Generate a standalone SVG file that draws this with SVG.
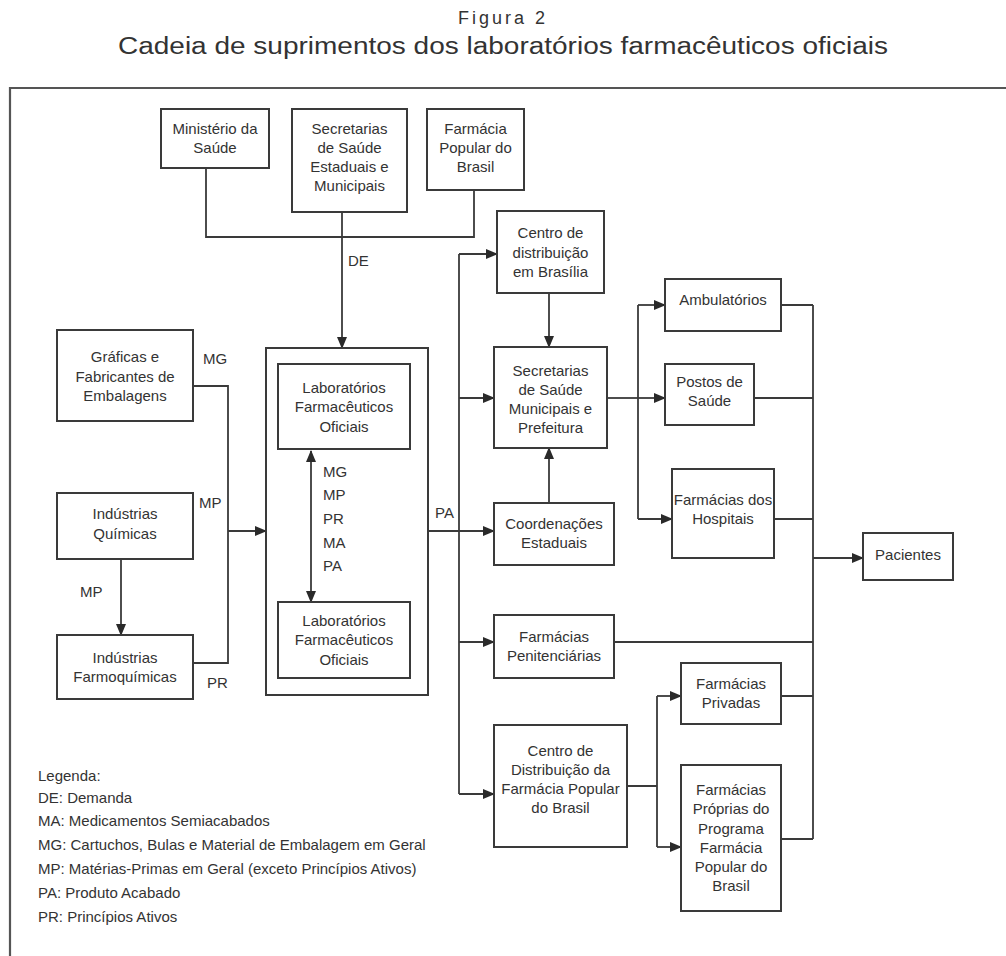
<svg xmlns="http://www.w3.org/2000/svg" width="1006" height="956" viewBox="0 0 1006 956">
<defs>
<marker id="ah" markerUnits="userSpaceOnUse" markerWidth="12" markerHeight="10" refX="11" refY="5" orient="auto-start-reverse">
<path d="M0,0 L12,5 L0,10 Z" fill="#2a2a2a"/>
</marker>
</defs>
<style>
.box{fill:#fff;stroke:#3a3a3a;stroke-width:2}
.t{font-family:"Liberation Sans",Arial,sans-serif;font-size:15px;fill:#333;text-anchor:middle;dominant-baseline:central}
.lbl{font-family:"Liberation Sans",Arial,sans-serif;font-size:15px;fill:#333;dominant-baseline:central}
.ln{fill:none;stroke:#3a3a3a;stroke-width:1.8}
.ar{fill:none;stroke:#3a3a3a;stroke-width:1.8;marker-end:url(#ah)}
</style>
<rect width="1006" height="956" fill="#fff"/>
<text x="503" y="18" class="t" style="font-size:18px;letter-spacing:3px">Figura 2</text>
<text x="503" y="46" class="t" style="font-size:23px" textLength="770" lengthAdjust="spacingAndGlyphs">Cadeia de suprimentos dos laboratórios farmacêuticos oficiais</text>
<path d="M1006,88 H10 V956" fill="none" stroke="#555" stroke-width="2.2"/>

<g id="connectors">
<path class="ln" d="M206,168 V237 H474 V190"/>
<path class="ar" d="M342,212 V348"/>
<path class="ln" d="M194,386 H228 V663 H194"/>
<path class="ar" d="M228,531 H266"/>
<path class="ar" d="M121,559 V635"/>
<path class="ar" d="M311,451 V602" style="marker-start:url(#ah)"/>
<path class="ar" d="M428,531 H494"/>
<path class="ln" d="M459,254 V794"/>
<path class="ar" d="M459,254 H497"/>
<path class="ar" d="M459,398 H494"/>
<path class="ar" d="M459,642 H494"/>
<path class="ar" d="M459,794 H494"/>
<path class="ar" d="M549,293 V347"/>
<path class="ar" d="M549,503 V448"/>
<path class="ln" d="M607,398 H638"/>
<path class="ln" d="M638,305 V519"/>
<path class="ar" d="M638,305 H665"/>
<path class="ar" d="M638,398 H665"/>
<path class="ar" d="M638,519 H672"/>
<path class="ln" d="M781,305 H813 M754,398 H813 M774,519 H813 M614,642 H813 M781,696 H813 M781,839 H813 M813,305 V839"/>
<path class="ar" d="M813,558 H863"/>
<path class="ln" d="M627,786 H657 M657,696 V847"/>
<path class="ar" d="M657,696 H681"/>
<path class="ar" d="M657,847 H681"/>
</g>

<g id="labels">
<text class="lbl" x="348" y="260">DE</text>
<text class="lbl" x="203" y="358">MG</text>
<text class="lbl" x="199" y="502">MP</text>
<text class="lbl" x="80" y="591">MP</text>
<text class="lbl" x="207" y="682">PR</text>
<text class="lbl" x="435" y="512">PA</text>
<text class="lbl" x="323" y="471">MG</text>
<text class="lbl" x="323" y="494">MP</text>
<text class="lbl" x="323" y="518">PR</text>
<text class="lbl" x="323" y="542">MA</text>
<text class="lbl" x="323" y="565">PA</text>
</g>

<g id="ministerio"><rect class="box" x="161" y="109" width="108" height="59"/>
<text class="t" x="215" y="128">Ministério da</text><text class="t" x="215" y="147">Saúde</text></g>
<g id="secretarias-estaduais"><rect class="box" x="292" y="109" width="115" height="103"/>
<text class="t" x="349.5" y="128">Secretarias</text><text class="t" x="349.5" y="147">de Saúde</text><text class="t" x="349.5" y="166">Estaduais e</text><text class="t" x="349.5" y="185">Municipais</text></g>
<g id="farmacia-popular"><rect class="box" x="427" y="109" width="97" height="81"/>
<text class="t" x="475.5" y="128">Farmácia</text><text class="t" x="475.5" y="147">Popular do</text><text class="t" x="475.5" y="166">Brasil</text></g>

<g id="graficas"><rect class="box" x="57" y="330" width="136" height="91"/>
<text class="t" x="125" y="356">Gráficas e</text><text class="t" x="125" y="376">Fabricantes de</text><text class="t" x="125" y="395">Embalagens</text></g>
<g id="quimicas"><rect class="box" x="57" y="493" width="136" height="66"/>
<text class="t" x="125" y="513">Indústrias</text><text class="t" x="125" y="533">Químicas</text></g>
<g id="farmoquimicas"><rect class="box" x="57" y="635" width="136" height="64"/>
<text class="t" x="125" y="657">Indústrias</text><text class="t" x="125" y="676">Farmoquímicas</text></g>

<g id="lab-outer"><rect class="box" x="266" y="348" width="162" height="347" fill="none" style="fill:none"/></g>
<g id="lab-top"><rect class="box" x="278" y="364" width="132" height="85"/>
<text class="t" x="344" y="387">Laboratórios</text><text class="t" x="344" y="406">Farmacêuticos</text><text class="t" x="344" y="426">Oficiais</text></g>
<g id="lab-bottom"><rect class="box" x="278" y="602" width="132" height="76"/>
<text class="t" x="344" y="620">Laboratórios</text><text class="t" x="344" y="639">Farmacêuticos</text><text class="t" x="344" y="659">Oficiais</text></g>

<g id="centro-brasilia"><rect class="box" x="497" y="211" width="107" height="82"/>
<text class="t" x="550.5" y="232">Centro de</text><text class="t" x="550.5" y="252">distribuição</text><text class="t" x="550.5" y="271">em Brasília</text></g>
<g id="secretarias-municipais"><rect class="box" x="494" y="347" width="113" height="101"/>
<text class="t" x="550.5" y="370">Secretarias</text><text class="t" x="550.5" y="389">de Saúde</text><text class="t" x="550.5" y="408">Municipais e</text><text class="t" x="550.5" y="427">Prefeitura</text></g>
<g id="coordenacoes"><rect class="box" x="494" y="503" width="120" height="62"/>
<text class="t" x="554" y="523">Coordenações</text><text class="t" x="554" y="542">Estaduais</text></g>
<g id="penitenciarias"><rect class="box" x="494" y="615" width="120" height="63"/>
<text class="t" x="554" y="636">Farmácias</text><text class="t" x="554" y="655">Penitenciárias</text></g>
<g id="centro-fp"><rect class="box" x="494" y="725" width="133" height="122"/>
<text class="t" x="560.5" y="750">Centro de</text><text class="t" x="560.5" y="769">Distribuição da</text><text class="t" x="560.5" y="788">Farmácia Popular</text><text class="t" x="560.5" y="807">do Brasil</text></g>

<g id="ambulatorios"><rect class="box" x="665" y="279" width="116" height="52"/>
<text class="t" x="723" y="299">Ambulatórios</text></g>
<g id="postos"><rect class="box" x="665" y="364" width="89" height="61"/>
<text class="t" x="709.5" y="381">Postos de</text><text class="t" x="709.5" y="400">Saúde</text></g>
<g id="hospitais"><rect class="box" x="672" y="469" width="102" height="89"/>
<text class="t" x="723" y="499">Farmácias dos</text><text class="t" x="723" y="518">Hospitais</text></g>
<g id="privadas"><rect class="box" x="681" y="663" width="100" height="61"/>
<text class="t" x="731" y="683">Farmácias</text><text class="t" x="731" y="702">Privadas</text></g>
<g id="proprias"><rect class="box" x="681" y="765" width="100" height="146"/>
<text class="t" x="731" y="789">Farmácias</text><text class="t" x="731" y="808">Próprias do</text><text class="t" x="731" y="828">Programa</text><text class="t" x="731" y="847">Farmácia</text><text class="t" x="731" y="866">Popular do</text><text class="t" x="731" y="885">Brasil</text></g>
<g id="pacientes"><rect class="box" x="863" y="533" width="90" height="47"/>
<text class="t" x="908" y="554">Pacientes</text></g>

<g id="legenda">
<text class="lbl" x="38" y="775">Legenda:</text>
<text class="lbl" x="38" y="797">DE: Demanda</text>
<text class="lbl" x="38" y="820">MA: Medicamentos Semiacabados</text>
<text class="lbl" x="38" y="844">MG: Cartuchos, Bulas e Material de Embalagem em Geral</text>
<text class="lbl" x="38" y="868">MP: Matérias-Primas em Geral (exceto Princípios Ativos)</text>
<text class="lbl" x="38" y="892">PA: Produto Acabado</text>
<text class="lbl" x="38" y="916">PR: Princípios Ativos</text>
</g>
</svg>
